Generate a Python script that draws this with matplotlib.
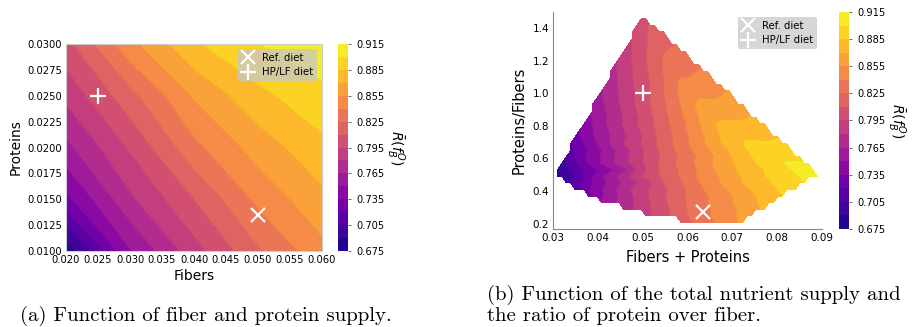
import matplotlib
matplotlib.use("Agg")
import matplotlib.pyplot as plt
import matplotlib.tri as mtri
import numpy as np

# values: rows = proteins, cols = fibers
fibers = np.array([0.02, 0.03, 0.04, 0.05, 0.06])
proteins = np.array([0.010, 0.015, 0.020, 0.025, 0.030])
r_bar = np.array([
    [0.680, 0.749, 0.789, 0.823, 0.851],
    [0.731, 0.777, 0.810, 0.844, 0.866],
    [0.761, 0.797, 0.836, 0.862, 0.881],
    [0.784, 0.820, 0.857, 0.881, 0.896],
    [0.805, 0.851, 0.883, 0.900, 0.910],
])

ref_diet = (0.050, 0.0135)
hplf_diet = (0.025, 0.025)

levels = np.linspace(0.675, 0.915, 17)
cbar_ticks = np.arange(0.675, 0.9151, 0.03)
cbar_label = r'$\bar{R}(f^O_B)$'


def bilinear(fx, py):
    """ sample the (fibers, proteins) grid at scattered points """
    fx = np.clip(fx, fibers.min(), fibers.max())
    py = np.clip(py, proteins.min(), proteins.max())
    ix = np.clip(np.searchsorted(fibers, fx) - 1, 0, len(fibers) - 2)
    iy = np.clip(np.searchsorted(proteins, py) - 1, 0, len(proteins) - 2)
    tx = (fx - fibers[ix]) / (fibers[ix + 1] - fibers[ix])
    ty = (py - proteins[iy]) / (proteins[iy + 1] - proteins[iy])
    v00 = r_bar[iy, ix]
    v01 = r_bar[iy, ix + 1]
    v10 = r_bar[iy + 1, ix]
    v11 = r_bar[iy + 1, ix + 1]
    return (v00 * (1 - tx) * (1 - ty) + v01 * tx * (1 - ty)
            + v10 * (1 - tx) * ty + v11 * tx * ty)


fig = plt.figure(figsize=(9.13, 3.27), dpi=100)

# ---- panel (a)
ax1 = fig.add_axes([0.0723, 0.2324, 0.2804, 0.633])
cs1 = ax1.contourf(fibers, proteins, r_bar, levels=levels, cmap='plasma')
ax1.contour(fibers, proteins, r_bar, levels=levels, colors='k',
            linewidths=0.15, alpha=0.3)
ax1.plot(*ref_diet, 'x', color='white', ms=10, mew=1.6, label='Ref. diet')
ax1.plot(*hplf_diet, '+', color='white', ms=12, mew=1.6, label='HP/LF diet')
ax1.set_xlim(0.02, 0.06)
ax1.set_ylim(0.01, 0.03)
ax1.set_xticks(np.arange(0.02, 0.0601, 0.005))
ax1.set_yticks(np.arange(0.01, 0.0301, 0.0025))
ax1.xaxis.set_major_formatter('{x:.3f}')
ax1.yaxis.set_major_formatter('{x:.4f}')
ax1.tick_params(length=0, labelsize=7.2, pad=3)
ax1.set_xlabel('Fibers', fontsize=10, labelpad=3)
ax1.set_ylabel('Proteins', fontsize=10, labelpad=3)
for s in ax1.spines.values():
    s.set_color('#cccccc')
    s.set_linewidth(0.8)
ax1.legend(loc='upper right', fontsize=7.3, framealpha=0.75,
           facecolor='#c8c8c8', edgecolor='none', handlelength=1.2,
           borderpad=0.35, labelspacing=0.45, fancybox=True)

cax1 = fig.add_axes([338 / 913, 0.2324, 10 / 913, 0.633])
cb1 = fig.colorbar(cs1, cax=cax1, ticks=cbar_ticks)
cb1.outline.set_visible(False)
cb1.ax.tick_params(labelsize=7.1, length=2.5, width=0.6, color='#555555')
cb1.ax.yaxis.set_major_formatter('{x:.3f}')
cb1.set_label(cbar_label, rotation=270, fontsize=10, labelpad=16)

# ---- panel (b): same values moved to (total supply, protein/fiber ratio)
# and re-gridded linearly over the convex hull (griddata style)
fg, pg = np.meshgrid(np.linspace(fibers.min(), fibers.max(), 9),
                     np.linspace(proteins.min(), proteins.max(), 9))
pts_s = (fg + pg).ravel()
pts_r = (pg / fg).ravel()
tri = mtri.Triangulation(pts_s, pts_r)
interp = mtri.LinearTriInterpolator(tri, bilinear(fg, pg).ravel())

r_lo, r_hi = pts_r.min(), pts_r.max()
total = np.linspace(pts_s.min(), pts_s.max(), 62)
ratio = np.linspace(r_lo, r_hi, 34)
S, Q = np.meshgrid(total, ratio)
Z = interp(S, Q)

ax2 = fig.add_axes([0.606, 0.2997, 0.294, 0.6636])
cs2 = ax2.contourf(S, Q, Z, levels=levels, cmap='plasma')
ax2.contour(S, Q, Z, levels=levels, colors='k', linewidths=0.15, alpha=0.3)
ax2.plot(sum(ref_diet), ref_diet[1] / ref_diet[0], 'x', color='white',
         ms=10, mew=1.6, label='Ref. diet')
ax2.plot(sum(hplf_diet), hplf_diet[1] / hplf_diet[0], '+', color='white',
         ms=12, mew=1.6, label='HP/LF diet')
ax2.set_xlim(0.03, 0.09)
ax2.set_ylim(r_lo, r_hi)
ax2.set_xticks(np.arange(0.03, 0.0901, 0.01))
ax2.set_yticks(np.arange(0.2, 1.41, 0.2))
ax2.xaxis.set_major_formatter('{x:.2f}')
ax2.yaxis.set_major_formatter('{x:.1f}')
ax2.tick_params(length=0, labelsize=7.5, pad=3)
ax2.set_xlabel('Fibers + Proteins', fontsize=10.5, labelpad=5)
ax2.set_ylabel('Proteins/Fibers', fontsize=10.5, labelpad=4)
ax2.spines['top'].set_visible(False)
ax2.spines['right'].set_visible(False)
for s in ('left', 'bottom'):
    ax2.spines[s].set_color('#888888')
    ax2.spines[s].set_linewidth(0.8)
ax2.legend(loc='upper right', fontsize=7.3, framealpha=0.85,
           facecolor='#cfcfcf', edgecolor='none', handlelength=1.2,
           borderpad=0.35, labelspacing=0.45, fancybox=True)

cax2 = fig.add_axes([839 / 913, 0.2997, 10 / 913, 0.6636])
cb2 = fig.colorbar(cs2, cax=cax2, ticks=cbar_ticks)
cb2.outline.set_visible(False)
cb2.ax.tick_params(labelsize=7.1, length=2.5, width=0.6, color='#555555')
cb2.ax.yaxis.set_major_formatter('{x:.3f}')
cb2.set_label(cbar_label, rotation=270, fontsize=10, labelpad=16)

# ---- captions
fig.text(20 / 913, 1 - 316 / 327, '(a) Function of fiber and protein supply.',
         family='cmr10', fontsize=15, va='center', ha='left')
fig.text(487 / 913, 1 - 295 / 327, '(b) Function of the total nutrient supply and',
         family='cmr10', fontsize=15, va='center', ha='left')
fig.text(487 / 913, 1 - 316 / 327, 'the ratio of protein over fiber.',
         family='cmr10', fontsize=15, va='center', ha='left')

fig.savefig('out.png', dpi=100)
